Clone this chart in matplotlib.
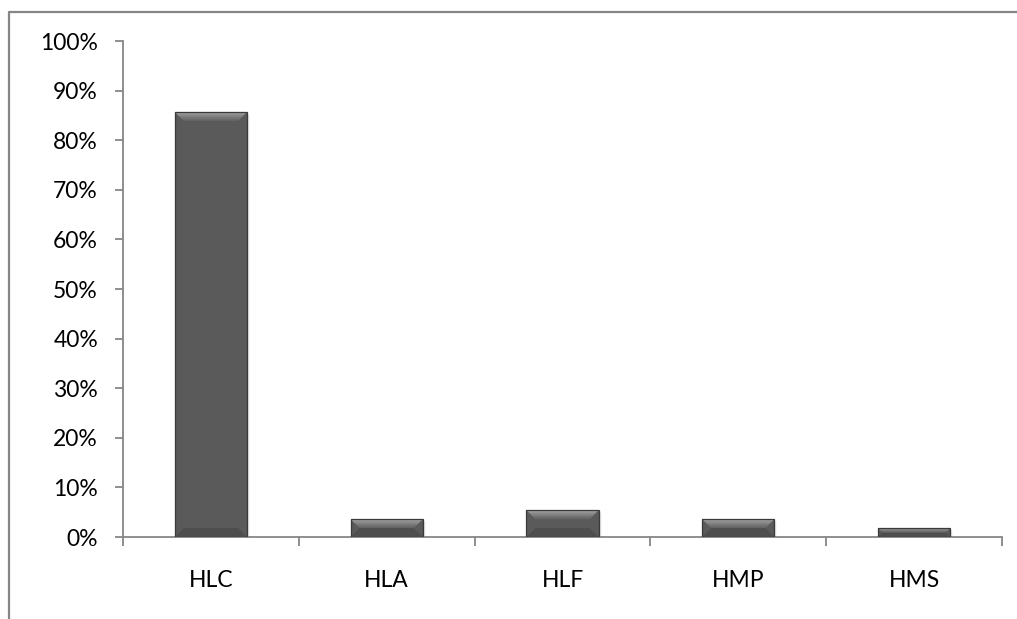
import matplotlib.pyplot as plt
import numpy as np
from matplotlib.lines import Line2D
from matplotlib.patches import Polygon, Rectangle
from matplotlib.ticker import PercentFormatter, FixedLocator

categorias = ["HLC", "HLA", "HLF", "HMP", "HMS"]
porcentajes = [0.857, 0.036, 0.054, 0.036, 0.018]

gris_eje = "#868686"
cara = "#5a5a5a"

plt.rcParams["font.family"] = ["Lato", "DejaVu Sans"]

fig = plt.figure(figsize=(10.17, 6.19), dpi=100)
ax = fig.add_axes([123 / 1017, 82 / 619, 879 / 1017, 496 / 619])

ax.set_xlim(-0.5, len(categorias) - 0.5)
ax.set_ylim(0, 1.0)

# tamaño de un pixel en unidades de datos, para el biselado
px_x = (len(categorias)) / 879
px_y = 1.0 / 496

ancho = 0.41
n_capas = 14

for i, v in enumerate(porcentajes):
    x0, x1 = i - ancho / 2, i + ancho / 2
    # sombra suave
    for k, a in enumerate([0.10, 0.06, 0.03]):
        ax.add_patch(Rectangle((x0 + (k + 1) * px_x, 0), ancho, v - (k + 1) * px_y,
                               facecolor="black", alpha=a, edgecolor="none", zorder=2))
    ax.add_patch(Rectangle((x0, 0), ancho, v, facecolor=cara,
                           edgecolor="none", zorder=3))
    d = min(9 * px_y, v / 2)
    dx = d / px_y * px_x
    top = v
    # bisel inferior, algo más oscuro
    ax.add_patch(Polygon([(x0, 0), (x0 + dx, d), (x1 - dx, d), (x1, 0)],
                         closed=True, facecolor="#4e4e4e", edgecolor="none", zorder=4))
    # bisel superior en capas: claro arriba, gris de la cara abajo
    for k in range(n_capas):
        f0 = k / n_capas
        f1 = (k + 1) / n_capas
        ya, yb = top - f0 * d, top - f1 * d
        tono = 0.74 - (0.74 - 0.38) * (f0 ** 0.9)
        ax.add_patch(Polygon([(x0 + f0 * dx, ya), (x1 - f0 * dx, ya),
                              (x1 - f1 * dx, yb), (x0 + f1 * dx, yb)],
                             closed=True, facecolor=(tono, tono, tono),
                             edgecolor="none", zorder=4))
    ax.add_patch(Rectangle((x0, 0), ancho, v, facecolor="none",
                           edgecolor="#3a3a3a", linewidth=0.9, zorder=5))

ax.set_yticks(np.arange(0, 1.01, 0.1))
ax.yaxis.set_major_formatter(PercentFormatter(1.0, decimals=0))

ax.xaxis.set_major_locator(FixedLocator(np.arange(-0.5, len(categorias), 1.0)))
ax.xaxis.set_major_formatter(plt.NullFormatter())
ax.xaxis.set_minor_locator(FixedLocator(range(len(categorias))))
ax.set_xticklabels(categorias, minor=True)

ax.tick_params(axis="y", direction="out", length=6, width=1.3, color=gris_eje,
               labelsize=16.5, pad=12, labelcolor="black")
ax.tick_params(axis="x", which="major", direction="out", length=6.5, width=1.3,
               color=gris_eje)
ax.tick_params(axis="x", which="minor", length=0, labelsize=16.5, pad=24,
               labelcolor="black")

for lado in ["top", "right"]:
    ax.spines[lado].set_visible(False)
for lado in ["left", "bottom"]:
    ax.spines[lado].set_color(gris_eje)
    ax.spines[lado].set_linewidth(1.3)

# marco exterior del gráfico
fx = 8.5 / 1017
fy = (619 - 11.5) / 619
fig.add_artist(Line2D([fx, fx, 1.0], [0.0, fy, fy], transform=fig.transFigure,
                      color=gris_eje, linewidth=1.6))

fig.savefig("out.png", dpi=100)
